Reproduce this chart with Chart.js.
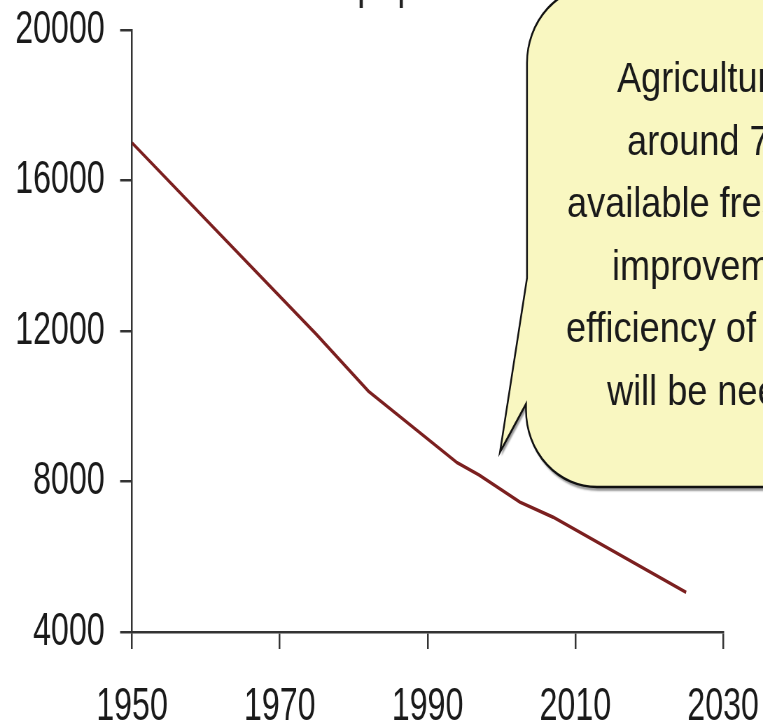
<!DOCTYPE html>
<html>
<head>
<meta charset="utf-8">
<script src="https://cdn.jsdelivr.net/npm/chart.js@4.4.1/dist/chart.umd.min.js"></script>
<style>
  html, body { margin: 0; padding: 0; background: #fff; overflow: hidden; }
</style>
</head>
<body>
<canvas id="chart" width="1090" height="728" style="display:block;width:763px;height:728px"></canvas>
<script>
// freshwater per person (m3)
const years = [1950, 1975, 1982, 1994, 1997, 2002.5, 2007, 2025];
const waterPerCapita = [17000, 11900, 10400, 8500, 8170, 7450, 7050, 5050];

const yTicks = [4000, 8000, 12000, 16000, 20000];
const xTicks = [1950, 1970, 1990, 2010, 2030];

const titleText = 'Water available for the population';
const calloutLines = [
  'Agriculture uses',
  'around 70% of',
  'available freshwater;',
  'improvements in the',
  'efficiency of irrigation',
  'will be needed'
];
// left edge of each callout line, in screen px
const calloutStarts = [617, 627, 567, 612, 566, 607];

// the picture is squeezed sideways: canvas is drawn wider and shrunk by css
const SQUEEZE = 763 / 1090;
const TEXT_STRETCH = 0.86 / SQUEEZE; // callout text is squeezed less than the axis labels
const sx = v => v / SQUEEZE;

function stretchedText(ctx, text, x, y) {
  ctx.save();
  ctx.translate(x, y);
  ctx.scale(TEXT_STRETCH, 1);
  ctx.fillText(text, 0, 0);
  ctx.restore();
}

const calloutPlugin = {
  id: 'callout',
  afterDraw(chart) {
    const ctx = chart.ctx;
    ctx.save();

    // speech bubble
    ctx.beginPath();
    ctx.moveTo(sx(820), -14);
    ctx.lineTo(sx(597), -14);
    ctx.ellipse(sx(597), 63, sx(70), 77, 0, -Math.PI / 2, Math.PI, true);
    ctx.lineTo(sx(527), 278);
    ctx.lineTo(sx(500), 452);
    ctx.lineTo(sx(526), 404);
    ctx.ellipse(sx(597), 410, sx(71), 77, 0, Math.PI, Math.PI / 2, true);
    ctx.lineTo(sx(820), 487);
    ctx.closePath();

    ctx.shadowColor = 'rgba(0, 0, 0, 0.4)';
    ctx.shadowOffsetX = 2;
    ctx.shadowOffsetY = 4;
    ctx.shadowBlur = 2;
    ctx.fillStyle = '#f9f7c1';
    ctx.fill();
    ctx.shadowColor = 'transparent';
    ctx.lineWidth = 2.5;
    ctx.strokeStyle = '#111';
    ctx.stroke();

    // callout text
    ctx.font = '42px "Liberation Sans", Arial, sans-serif';
    ctx.fillStyle = '#1a1a1a';
    ctx.textAlign = 'left';
    ctx.textBaseline = 'alphabetic';
    calloutLines.forEach((line, i) => {
      stretchedText(ctx, line, sx(calloutStarts[i]), 92 + i * 62.5);
    });

    // title, only its descenders show at the top edge
    const prefix = titleText.slice(0, titleText.indexOf('population'));
    const prefixW = ctx.measureText(prefix).width * TEXT_STRETCH;
    ctx.fillStyle = '#222';
    stretchedText(ctx, titleText, sx(361) - 5.5 - prefixW, -1);

    ctx.restore();
  }
};

const tickFont = { family: '"Liberation Sans", Arial, sans-serif', size: 46 };

new Chart(document.getElementById('chart'), {
  type: 'line',
  data: {
    datasets: [{
      label: 'Freshwater per capita',
      data: years.map((yr, i) => ({ x: yr, y: waterPerCapita[i] })),
      borderColor: '#7b1f1f',
      borderWidth: 3.5,
      pointRadius: 0,
      tension: 0,
      fill: false
    }]
  },
  options: {
    responsive: false,
    animation: false,
    devicePixelRatio: 1,
    layout: {
      padding: { top: 30, right: 57, left: 0, bottom: 0 }
    },
    plugins: {
      legend: { display: false },
      tooltip: { enabled: false }
    },
    scales: {
      x: {
        type: 'linear',
        min: xTicks[0],
        max: xTicks[xTicks.length - 1],
        afterBuildTicks: scale => { scale.ticks = xTicks.map(v => ({ value: v })); },
        afterFit: scale => {
          scale.height = 96;
          scale.paddingLeft = 0;
          scale.paddingRight = 0;
        },
        grid: {
          drawOnChartArea: false,
          drawTicks: true,
          tickLength: 17,
          color: '#333',
          lineWidth: 2.5
        },
        border: { display: true, color: '#333', width: 2.5 },
        ticks: {
          font: tickFont,
          color: '#1a1a1a',
          padding: 31,
          maxRotation: 0,
          callback: v => String(v)
        }
      },
      y: {
        min: yTicks[0],
        max: yTicks[yTicks.length - 1],
        afterBuildTicks: scale => { scale.ticks = yTicks.map(v => ({ value: v })); },
        afterFit: scale => {
          scale.width = 188.6;
          scale.paddingTop = 0;
          scale.paddingBottom = 0;
        },
        grid: {
          drawOnChartArea: false,
          drawTicks: true,
          tickLength: 17,
          color: '#333',
          lineWidth: 2.5
        },
        border: { display: true, color: '#333', width: 2.5 },
        ticks: {
          font: tickFont,
          color: '#1a1a1a',
          padding: 22,
          callback: v => String(v)
        }
      }
    }
  },
  plugins: [calloutPlugin]
});
</script>
</body>
</html>
